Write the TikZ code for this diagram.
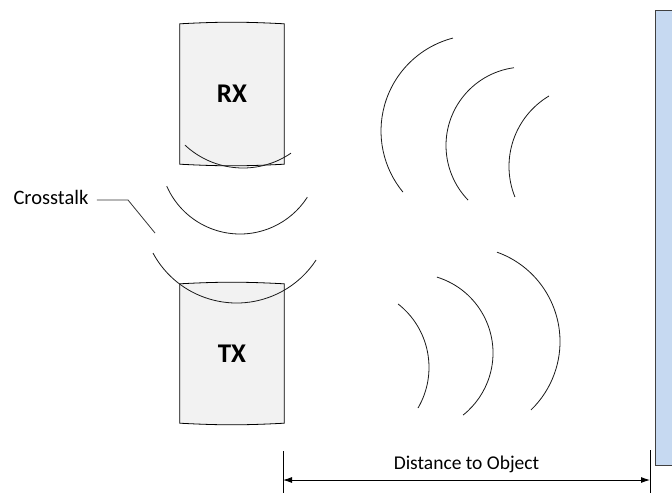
\documentclass[tikz,border=0pt]{standalone}
\usepackage{fontspec}
\setsansfont{Carlito}
\usetikzlibrary{calc, positioning, arrows.meta, backgrounds}
\definecolor{wallblue}{HTML}{C6D9F1}
\definecolor{canfill}{HTML}{F2F2F2}

\begin{document}
\begin{tikzpicture}[
		x=1pt, y=1pt,
		font=\sffamily,
		can/.style={minimum width=104pt, inner sep=0pt, font=\sffamily\bfseries\fontsize{27}{27}\selectfont},
		canbody/.style={draw=black, line width=0.8pt, fill=canfill},
		wave/.style={draw=black!90, line width=0.8pt},
		leader/.style={draw=black!80, line width=0.8pt},
		wall/.style={draw=black!75, line width=1pt, fill=wallblue, inner sep=0pt},
		dim/.style={draw=black, line width=0.9pt},
		dimarrow/.style={{Latex[length=9pt, width=6pt]}-{Latex[length=9pt, width=6pt]}, line width=0.9pt}
		]
		
		\useasboundingbox (0,0) rectangle (672,-493);
		
		% 1. Receiver and transmitter
		\node[can, minimum height=140pt] (rx) at (232,-94) {RX};
		\node[can, minimum height=139pt] (tx) at (232,-353.5) {TX};
		\begin{scope}[on background layer]
			\draw[canbody] (rx.north west) to[bend left=3] (rx.north east) -- (rx.south east) to[bend left=3] (rx.south west) -- cycle;
			\draw[canbody] (tx.north west) to[bend left=3] (tx.north east) -- (tx.south east) to[bend left=3] (tx.south west) -- cycle;
		\end{scope}
		
		% 2. Object (wall on the right)
		\node[wall, anchor=north west, minimum width=40pt, minimum height=455pt] (object) at (655,-10) {};
		
		% 3. Crosstalk between TX and RX
		\draw[wave] (243,-83) ++(226.9:85) arc[start angle=226.9, end angle=304.4, radius=85];
		\draw[wave] (240,-154) ++(203.7:80) arc[start angle=203.7, end angle=327.3, radius=80];
		\draw[wave] (236.6,-208) ++(208.3:95) arc[start angle=208.3, end angle=326.8, radius=95];
		
		\node[anchor=west, font=\sffamily\fontsize{20.5}{20.5}\selectfont] (xtalk) at (10,-197) {Crosstalk};
		\coordinate (knee) at (128,-200);
		\coordinate (tip) at (155,-233);
		\draw[leader, shorten <=5pt] (xtalk.east |- knee) -- (knee) -- (tip);
		
		% 4. Echo coming back to RX
		\draw[wave] (477,-131) ++(104.5:96) arc[start angle=104.5, end angle=219.5, radius=96];
		\draw[wave] (524.5,-145.5) ++(97.7:78.5) arc[start angle=97.7, end angle=224, radius=78.5];
		\draw[wave] (591,-166.4) ++(120.8:82) arc[start angle=120.8, end angle=201.9, radius=82];
		
		% 5. Pulse sent out by TX
		\draw[wave] (348.5,-367.4) ++(52:80.5) arc[start angle=52, end angle=-30.3, radius=80.5];
		\draw[wave] (413.6,-353) ++(72.9:79.4) arc[start angle=72.9, end angle=-51.4, radius=79.4];
		\draw[wave] (465,-341.6) ++(70.3:95) arc[start angle=70.3, end angle=-46, radius=95];
		
		% 6. Distance to object
		\coordinate (dimLtop) at (283,-451);
		\coordinate (dimLbot) at (283,-493);
		\coordinate (dimRtop) at (650,-450);
		\coordinate (dimRbot) at (650,-493);
		\draw[dim] (dimLtop) -- (dimLbot);
		\draw[dim] (dimRtop) -- (dimRbot);
		\coordinate (dimL) at (283,-480);
		\coordinate (dimR) at (650,-480);
		\draw[dimarrow] (dimL) -- (dimR) node[midway, above=3pt, font=\sffamily\fontsize{19.5}{19.5}\selectfont] (dist) {Distance to Object};
		
	\end{tikzpicture}
\end{document}
